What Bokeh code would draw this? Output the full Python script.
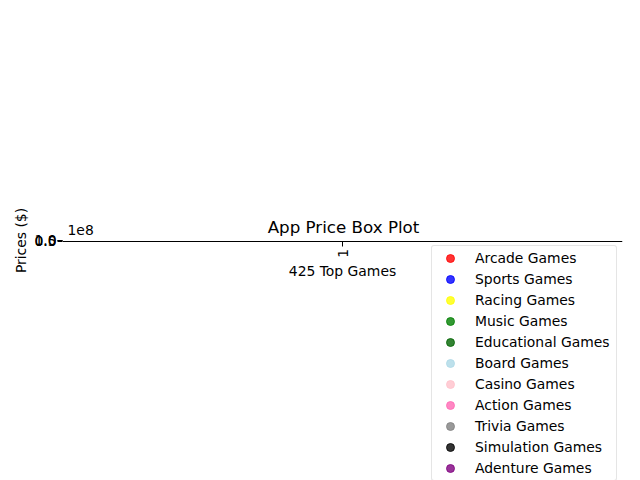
import math
from bokeh.plotting import figure
from bokeh.models import (Range1d, FixedTicker, Legend, LegendItem, Label,
                          ColumnDataSource, LinearAxis)
from bokeh.embed import file_html
from bokeh.resources import INLINE

# ---- data ----
categories = ["Arcade Games", "Sports Games", "Racing Games", "Music Games",
              "Educational Games", "Board Games", "Casino Games", "Action Games",
              "Trivia Games", "Simulation Games", "Adenture Games"]
colors = ["red", "blue", "yellow", "green", "darkgreen", "lightblue", "pink",
          "hotpink", "gray", "black", "purple"]
x_ticks = [1]
x_tick_labels = ["1"]
y_ticks = [0, 50000000, 100000000]
y_tick_labels = ["0.0", "0.5", "1.0"]
y_low, y_high = 0, 100000000
x_label = "425 Top Games"
y_label = "Prices ($)"
title_text = "App Price Box Plot"
offset_text = "1e8"

FONT = "DejaVu Sans"

# the axes box has (almost) no height: 1 px per 1e8 around the middle of the canvas
mid = (y_low + y_high) / 2
span = (y_high - y_low) * 240
p = figure(width=640, height=480, output_backend="svg", toolbar_location=None,
           x_range=Range1d(0.5, 1.5), y_range=Range1d(mid - span, mid + span),
           x_axis_location=None,
           min_border_left=62, min_border_right=18,
           min_border_top=0, min_border_bottom=0)
p.background_fill_color = "white"
p.border_fill_color = "white"
p.outline_line_color = None
p.grid.visible = False

xaxis = LinearAxis(fixed_location=y_low)
p.add_layout(xaxis, "below")

for ax in (xaxis, p.yaxis[0]):
    ax.axis_line_color = "black"
    ax.axis_line_width = 1
    ax.major_tick_line_color = "black"
    ax.major_tick_out = 5
    ax.major_tick_in = 0
    ax.minor_tick_line_color = None
    ax.major_label_text_font = FONT
    ax.major_label_text_font_size = "13.9px"
    ax.major_label_text_color = "black"
    ax.axis_label_text_font = FONT
    ax.axis_label_text_font_size = "13.9px"
    ax.axis_label_text_font_style = "normal"
    ax.axis_label_text_color = "black"

xaxis.ticker = FixedTicker(ticks=x_ticks)
xaxis.major_label_overrides = {t: l for t, l in zip(x_ticks, x_tick_labels)}
xaxis.major_label_orientation = math.pi / 2
xaxis.major_label_standoff = 3
xaxis.axis_label = x_label
xaxis.axis_label_standoff = 2

yaxis = p.yaxis[0]
yaxis.axis_line_color = None
yaxis.ticker = FixedTicker(ticks=y_ticks)
yaxis.major_label_overrides = {t: l for t, l in zip(y_ticks, y_tick_labels)}
yaxis.major_label_standoff = 1
yaxis.axis_label = y_label
yaxis.axis_label_standoff = 2

# title and offset text (inside the tall frame)
p.add_layout(Label(x=281, y=254, x_units="screen", y_units="screen", text=title_text,
                   text_font=FONT, text_font_size="16.7px", text_baseline="alphabetic",
                   text_align="center", text_color="black"))
p.add_layout(Label(x=5, y=251, x_units="screen", y_units="screen", text=offset_text,
                   text_font=FONT, text_font_size="13.9px", text_baseline="alphabetic",
                   text_align="left", text_color="black"))

# scatter series: their points lie outside the visible (collapsed) axes
items = []
for cat, col in zip(categories, colors):
    src = ColumnDataSource(data=dict(x=[float("nan")], y=[float("nan")]))
    r = p.scatter("x", "y", source=src, marker="circle", size=9,
                  fill_color=col, line_color=col, fill_alpha=0.8, line_alpha=0.8)
    items.append(LegendItem(label=cat, renderers=[r]))

legend = Legend(items=items, location=(369, -1))
legend.label_text_font = FONT
legend.label_text_font_size = "13.9px"
legend.label_text_color = "black"
legend.glyph_width = 32
legend.glyph_height = 20
legend.label_height = 20
legend.label_width = 139
legend.spacing = 1
legend.padding = 2
legend.margin = 0
legend.label_standoff = 9
legend.border_line_color = "#cccccc"
legend.border_line_width = 1
legend.background_fill_color = "white"
legend.background_fill_alpha = 0.8
legend.border_radius = 3
p.add_layout(legend, "center")

open("out.html", "w").write(file_html(p, INLINE))
